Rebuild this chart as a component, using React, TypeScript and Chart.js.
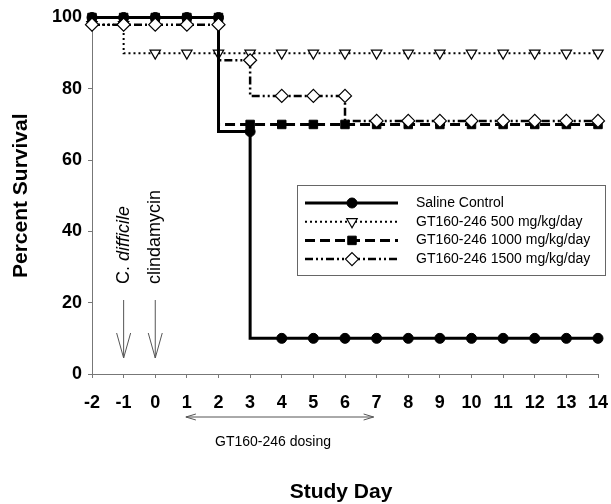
import React, { useEffect, useRef } from 'react';
import { Chart, registerables } from 'chart.js';

Chart.register(...registerables);

// ---- data ----
const days = [-2, -1, 0, 1, 2, 3, 4, 5, 6, 7, 8, 9, 10, 11, 12, 13, 14];
const salineControl = [100, 100, 100, 100, 100, 68, 10, 10, 10, 10, 10, 10, 10, 10, 10, 10, 10];
const dose500 = [98, 98, 90, 90, 90, 90, 90, 90, 90, 90, 90, 90, 90, 90, 90, 90, 90];
const dose1000 = [100, 100, 100, 100, 100, 70, 70, 70, 70, 70, 70, 70, 70, 70, 70, 70, 70];
const dose1500 = [98, 98, 98, 98, 98, 88, 78, 78, 78, 71, 71, 71, 71, 71, 71, 71, 71];
const seriesLabels = [
  'Saline Control',
  'GT160-246 500 mg/kg/day',
  'GT160-246 1000 mg/kg/day',
  'GT160-246 1500 mg/kg/day',
];
const yTitle = 'Percent Survival';
const xTitle = 'Study Day';
const dosingLabel = 'GT160-246 dosing';
const dosingStart = 1;
const dosingEnd = 7;
const infectionDay = -1;
const antibioticDay = 0;

const FONT = '"Liberation Sans", Arial, Helvetica, sans-serif';

type MarkerSpec = { style: string; r: number; fill: string; stroke: string; bw: number };

function drawMarker(ctx: CanvasRenderingContext2D, m: MarkerSpec, x: number, y: number) {
  ctx.save();
  ctx.beginPath();
  const r = m.r;
  if (m.style === 'circle') {
    ctx.arc(x, y, r, 0, Math.PI * 2);
  } else if (m.style === 'triangleDown') {
    ctx.moveTo(x, y + r);
    ctx.lineTo(x - 0.866 * r, y - 0.5 * r);
    ctx.lineTo(x + 0.866 * r, y - 0.5 * r);
    ctx.closePath();
  } else if (m.style === 'rect') {
    const s = r * Math.SQRT1_2;
    ctx.rect(x - s, y - s, 2 * s, 2 * s);
  } else if (m.style === 'rectRot') {
    ctx.moveTo(x, y - r);
    ctx.lineTo(x + r, y);
    ctx.lineTo(x, y + r);
    ctx.lineTo(x - r, y);
    ctx.closePath();
  }
  ctx.setLineDash([]);
  ctx.fillStyle = m.fill;
  ctx.fill();
  ctx.lineWidth = m.bw;
  ctx.strokeStyle = m.stroke;
  ctx.stroke();
  ctx.restore();
}

const markers: MarkerSpec[] = [
  { style: 'circle', r: 5, fill: '#000', stroke: '#000', bw: 1 },
  { style: 'triangleDown', r: 6, fill: '#fff', stroke: '#000', bw: 1.2 },
  { style: 'rect', r: 6, fill: '#000', stroke: '#000', bw: 1 },
  { style: 'rectRot', r: 6.5, fill: '#fff', stroke: '#000', bw: 1.2 },
];
const lineWidths = [3, 2, 3, 2.5];
const dashes: number[][] = [[], [2, 3], [10, 5], [8, 3, 2, 3, 2, 3]];

const annotationPlugin = {
  id: 'annotations',
  afterDraw(chart: any) {
    const ctx: CanvasRenderingContext2D = chart.ctx;
    const xs = chart.scales.x;
    const area = chart.chartArea;
    ctx.save();
    ctx.fillStyle = '#000';

    // axis titles
    ctx.font = `bold 21px ${FONT}`;
    ctx.textAlign = 'center';
    ctx.textBaseline = 'middle';
    ctx.fillText(xTitle, 341, 492);
    ctx.save();
    ctx.translate(21, (area.top + area.bottom) / 2);
    ctx.rotate(-Math.PI / 2);
    ctx.fillText(yTitle, 0, 0);
    ctx.restore();

    // rotated event labels
    const drawRotated = (x: number, parts: { t: string; italic: boolean }[]) => {
      ctx.save();
      ctx.translate(x, 284);
      ctx.rotate(-Math.PI / 2);
      ctx.textAlign = 'left';
      ctx.textBaseline = 'middle';
      let off = 0;
      for (const p of parts) {
        ctx.font = `${p.italic ? 'italic ' : ''}18px ${FONT}`;
        ctx.fillText(p.t, off, 0);
        off += ctx.measureText(p.t).width;
      }
      ctx.restore();
    };
    const xInf = xs.getPixelForValue(infectionDay);
    const xAb = xs.getPixelForValue(antibioticDay);
    drawRotated(xInf, [{ t: 'C. ', italic: false }, { t: 'difficile', italic: true }]);
    drawRotated(xAb, [{ t: 'clindamycin', italic: false }]);

    // down arrows
    ctx.strokeStyle = '#555';
    ctx.lineWidth = 1;
    ctx.setLineDash([]);
    for (const x of [xInf, xAb]) {
      ctx.beginPath();
      ctx.moveTo(x, 300);
      ctx.lineTo(x, 358);
      ctx.moveTo(x - 7, 333);
      ctx.lineTo(x, 358);
      ctx.lineTo(x + 7, 333);
      ctx.stroke();
    }

    // dosing double arrow
    const x1 = xs.getPixelForValue(dosingStart) - 1;
    const x2 = xs.getPixelForValue(dosingEnd) - 3;
    const ay = 417;
    ctx.beginPath();
    ctx.moveTo(x1, ay);
    ctx.lineTo(x2, ay);
    ctx.moveTo(x1 + 10, ay - 3);
    ctx.lineTo(x1, ay);
    ctx.lineTo(x1 + 10, ay + 3);
    ctx.moveTo(x2 - 10, ay - 3);
    ctx.lineTo(x2, ay);
    ctx.lineTo(x2 - 10, ay + 3);
    ctx.stroke();
    ctx.font = `14px ${FONT}`;
    ctx.textAlign = 'center';
    ctx.textBaseline = 'middle';
    ctx.fillStyle = '#000';
    ctx.fillText(dosingLabel, 273, 442);

    // legend
    ctx.strokeStyle = '#666';
    ctx.lineWidth = 1;
    ctx.strokeRect(297.5, 185.5, 308, 90);
    chart.data.datasets.forEach((ds: any, i: number) => {
      const y = 203 + i * 18.7;
      ctx.save();
      ctx.beginPath();
      ctx.strokeStyle = '#000';
      ctx.lineWidth = lineWidths[i];
      ctx.setLineDash(dashes[i]);
      ctx.moveTo(305, y);
      ctx.lineTo(398, y);
      ctx.stroke();
      ctx.restore();
      drawMarker(ctx, markers[i], 352, y);
      ctx.font = `14px ${FONT}`;
      ctx.textAlign = 'left';
      ctx.textBaseline = 'middle';
      ctx.fillStyle = '#000';
      ctx.fillText(ds.label, 416, y);
    });
    ctx.restore();
  },
};

const series = [salineControl, dose500, dose1000, dose1500];
const orders = [1, 3, 2, 0];

export default function App() {
  const ref = useRef<HTMLCanvasElement | null>(null);
  useEffect(() => {
    document.body.style.margin = '0';
    if (!ref.current) return;
    const datasets = series.map((vals, i) => ({
      label: seriesLabels[i],
      data: days.map((d, k) => ({ x: d, y: vals[k] })),
      stepped: 'after' as const,
      borderColor: '#000',
      borderWidth: lineWidths[i],
      borderDash: dashes[i],
      pointStyle: markers[i].style === 'triangleDown' ? 'triangle' : markers[i].style,
      rotation: markers[i].style === 'triangleDown' ? 180 : 0,
      pointRadius: markers[i].r,
      pointBackgroundColor: markers[i].fill,
      pointBorderColor: markers[i].stroke,
      pointBorderWidth: markers[i].bw,
      fill: false,
      clip: false as any,
      order: orders[i],
    }));
    const tickFont = { family: FONT, size: 18, weight: 'bold' as const };
    const chart = new Chart(ref.current, {
      type: 'line',
      data: { datasets: datasets as any },
      options: {
        animation: false,
        responsive: false,
        events: [],
        layout: { padding: { left: 0, top: 17.5, right: 13, bottom: 0 } },
        plugins: { legend: { display: false }, tooltip: { enabled: false } },
        scales: {
          x: {
            type: 'linear',
            min: -2,
            max: 14,
            afterFit: (s: any) => {
              s.height = 130;
              s.paddingLeft = 0;
              s.paddingRight = 0;
            },
            ticks: { stepSize: 1, font: tickFont, color: '#000', padding: 14, autoSkip: false, maxRotation: 0 },
            grid: { display: true, drawOnChartArea: false, drawTicks: true, tickLength: 4, color: '#777' },
            border: { display: true, color: '#777', width: 1 },
          },
          y: {
            min: 0,
            max: 100,
            afterFit: (s: any) => {
              s.width = 92;
              s.paddingTop = 0;
              s.paddingBottom = 0;
            },
            ticks: { stepSize: 20, font: tickFont, color: '#000', padding: 6 },
            grid: { display: true, drawOnChartArea: false, drawTicks: true, tickLength: 4, color: '#777' },
            border: { display: true, color: '#777', width: 1 },
          },
        },
      },
      plugins: [annotationPlugin],
    });
    return () => chart.destroy();
  }, []);
  return (
    <div style={{ width: 611, height: 504, position: 'relative', background: '#fff' }}>
      <canvas ref={ref} width={611} height={504} style={{ display: 'block' }} />
    </div>
  );
}
